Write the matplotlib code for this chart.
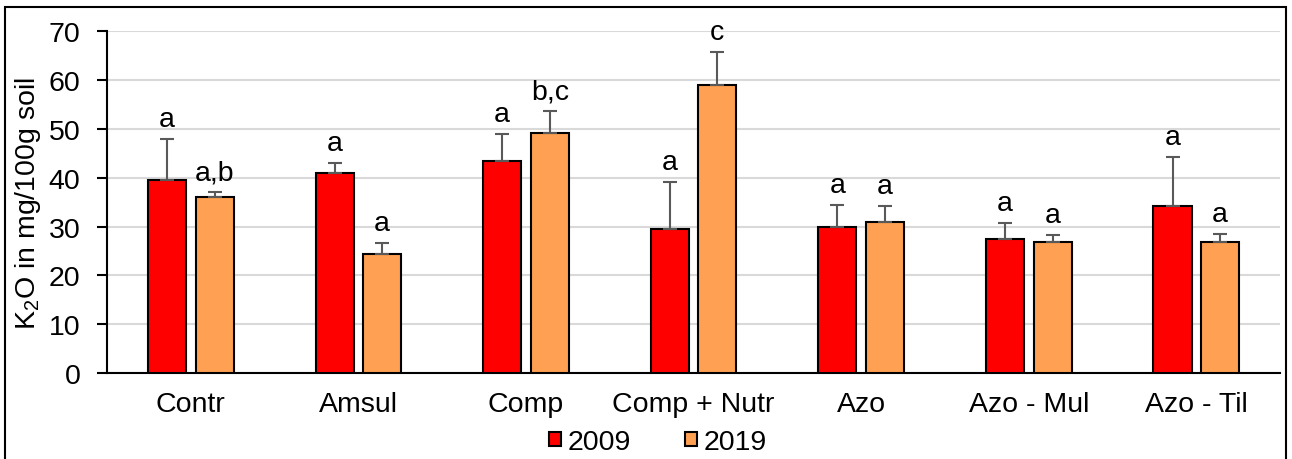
import numpy as np
import matplotlib
matplotlib.use('Agg')
import matplotlib.pyplot as plt
from matplotlib.patches import Rectangle

plt.rcParams['font.family'] = ['Liberation Sans', 'DejaVu Sans']
plt.rcParams['mathtext.default'] = 'regular'

# data
categories = ['Contr', 'Amsul', 'Comp', 'Comp + Nutr', 'Azo', 'Azo - Mul', 'Azo - Til']
vals_2009 = [39.5, 41.0, 43.5, 29.5, 30.0, 27.5, 34.3]
err_2009 = [8.5, 2.0, 5.5, 9.6, 4.5, 3.3, 10.0]
vals_2019 = [36.0, 24.3, 49.2, 59.0, 31.0, 26.8, 26.8]
err_2019 = [1.0, 2.4, 4.4, 6.8, 3.3, 1.4, 1.6]
letters_2009 = ['a', 'a', 'a', 'a', 'a', 'a', 'a']
letters_2019 = ['a,b', 'a', 'b,c', 'c', 'a', 'a', 'a']

fs = 20.5

fig = plt.figure(figsize=(12.92, 4.6), dpi=100)
ax = fig.add_axes([0.0828, 0.187, 0.908, 0.743])

# outer border like the excel chart frame
fig.patches.append(Rectangle((5 / 1292, -0.01), 1281 / 1292, 1 - 8 / 460 + 0.01,
                             transform=fig.transFigure, fill=False,
                             edgecolor='black', linewidth=1.5))

x = np.arange(len(categories))
w = 0.227
off = 0.142
ekw = dict(ecolor='#595959', elinewidth=1.5, capsize=5, capthick=1.5)
ax.bar(x - off, vals_2009, w, color='#FF0000', edgecolor='black', linewidth=1.5,
       label='2009', zorder=3)
ax.errorbar(x - off, vals_2009, yerr=[[0] * len(x), err_2009], fmt='none', zorder=4, **ekw)
ax.bar(x + off, vals_2019, w, color='#FFA052', edgecolor='black', linewidth=1.5,
       label='2019', zorder=3)
ax.errorbar(x + off, vals_2019, yerr=[[0] * len(x), err_2019], fmt='none', zorder=4, **ekw)

for i in range(len(x)):
    ax.annotate(letters_2009[i], (x[i] - off, vals_2009[i] + err_2009[i]),
                xytext=(0, 5), textcoords='offset points', ha='center', va='bottom', fontsize=fs)
    ax.annotate(letters_2019[i], (x[i] + off, vals_2019[i] + err_2019[i]),
                xytext=(0, 5), textcoords='offset points', ha='center', va='bottom', fontsize=fs)

ax.set_xlim(-0.5, len(x) - 0.5)
ax.set_ylim(0, 70)
ax.set_yticks(range(0, 71, 10))
ax.set_xticks(x)
ax.set_xticklabels(categories, fontsize=fs)
ax.tick_params(axis='x', length=0, pad=13)
ax.tick_params(axis='y', labelsize=fs, length=7, width=1.5, pad=12)
ax.yaxis.grid(True, color='#d9d9d9', linewidth=1.5, zorder=0)
ax.set_axisbelow(True)
for s in ['top', 'right']:
    ax.spines[s].set_visible(False)
ax.spines['left'].set_linewidth(1.5)
ax.spines['bottom'].set_linewidth(1.5)
ax.set_ylabel('K$_2$O in mg/100g soil', fontsize=fs, labelpad=4)

leg = ax.legend(loc='center', bbox_to_anchor=(0.47, -0.202), ncol=2, frameon=False,
                fontsize=fs, handlelength=0.4, handleheight=0.4, handletextpad=0.25,
                columnspacing=1.9, borderpad=0)

fig.savefig('out.png', dpi=100)
